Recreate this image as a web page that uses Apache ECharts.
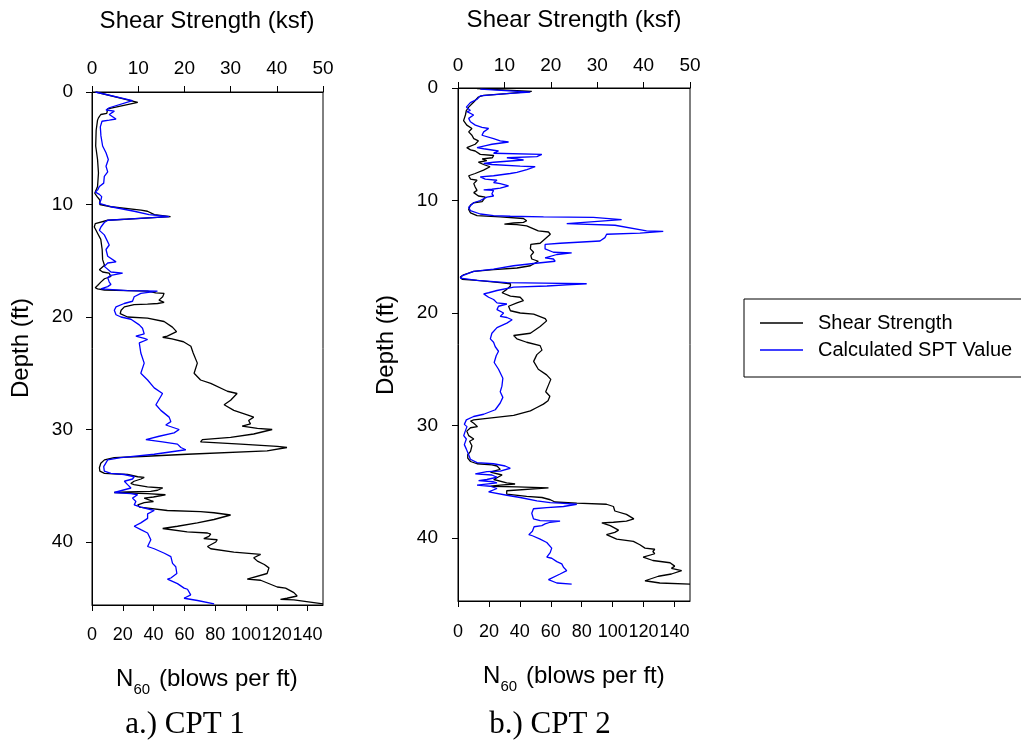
<!DOCTYPE html>
<html>
<head>
<meta charset="utf-8">
<title>CPT shear strength and SPT profiles</title>
<script src="https://cdn.jsdelivr.net/npm/echarts@6/dist/echarts.min.js"></script>
<style>
  html, body { margin: 0; padding: 0; background: #fff; }
  #chart { width: 1021px; height: 746px; }
</style>
</head>
<body>
<div id="chart"></div>
<script>
// Profiles are [depth (ft), value] pairs, ordered by depth.
// CPT 1 shear strength (ksf)
const cpt1Shear = [
  [0.0, 0.8], [0.92, 9.9], [1.5, 3.4], [1.9, 3.2], [2.0, 1.9], [2.3, 1.4], [2.5, 1.2], [3.4, 0.9],
  [4.8, 0.8], [6.0, 1.2], [7.2, 1.4], [8.4, 1.2], [9.0, 0.6], [9.3, 1.1], [9.6, 1.7], [10.0, 1.7],
  [10.2, 4.1], [10.5, 10.6], [10.6, 12.0], [10.9, 13.5], [11.07, 17.0], [11.4, 3.4], [11.7, 0.7],
  [12.0, 0.5], [12.55, 1.2], [13.1, 1.9], [14.0, 2.2], [14.9, 2.3], [15.4, 2.7], [15.8, 1.6],
  [16.0, 2.3], [16.1, 3.7], [16.4, 4.1], [16.6, 2.7], [16.9, 1.9], [17.2, 1.2], [17.4, 0.7],
  [17.5, 1.2], [17.6, 2.7], [17.65, 7.7], [17.7, 12.0], [17.85, 13.8], [17.9, 15.6], [18.2, 15.3],
  [18.5, 14.5], [18.7, 15.6], [18.8, 14.2], [18.85, 12.0], [18.9, 9.1], [19.1, 7.0], [19.4, 6.3],
  [19.7, 6.1], [19.85, 6.4], [20.0, 7.7], [20.1, 12.0], [20.4, 15.6], [20.9, 17.4], [21.3, 18.3],
  [21.7, 16.3], [21.8, 15.3], [21.95, 17.3], [22.2, 19.8], [22.6, 21.4], [23.2, 21.9], [24.1, 22.8],
  [25.0, 22.1], [25.6, 23.5], [25.9, 25.7], [26.6, 29.3], [26.8, 31.4], [27.4, 30.0], [27.8, 28.6],
  [28.3, 30.7], [28.7, 33.6], [28.9, 35.0], [29.2, 33.9], [29.5, 34.3], [29.7, 32.5], [29.9, 35.8],
  [30.0, 39.0], [30.4, 35.0], [30.7, 30.0], [30.9, 23.9], [31.1, 23.5], [31.3, 32.2], [31.5, 40.1],
  [31.6, 42.2], [31.9, 37.9], [32.2, 20.6], [32.4, 10.6], [32.5, 4.8], [32.7, 2.7], [33.0, 1.9],
  [33.4, 1.6], [33.7, 1.7], [33.9, 2.7], [34.0, 7.7], [34.2, 9.9], [34.25, 11.3], [34.4, 10.6],
  [34.6, 9.1], [34.8, 8.4], [34.9, 9.1], [35.1, 12.0], [35.2, 15.3], [35.4, 14.2], [35.5, 12.7],
  [35.55, 7.7], [35.6, 4.8], [35.65, 8.4], [35.7, 12.0], [35.8, 15.9], [36.0, 13.3], [36.1, 11.3],
  [36.4, 13.3], [36.5, 11.3], [36.7, 9.9], [36.9, 10.3], [37.2, 16.3], [37.3, 23.5], [37.4, 26.4],
  [37.6, 30.0], [38.0, 26.4], [38.3, 22.8], [38.6, 18.5], [38.8, 15.3], [38.9, 15.7], [39.1, 20.6],
  [39.2, 25.0], [39.3, 25.7], [39.5, 25.3], [39.7, 24.2], [39.8, 27.1], [40.0, 26.8], [40.4, 25.0],
  [40.6, 25.7], [40.9, 30.7], [41.1, 36.5], [41.4, 35.0], [41.7, 35.8], [42.0, 37.3], [42.3, 38.3],
  [42.8, 37.9], [43.3, 33.6], [43.4, 36.5], [44.0, 40.1], [44.1, 41.9], [44.5, 43.7], [44.8, 44.4],
  [45.0, 42.2], [45.1, 40.8], [45.15, 43.7], [45.5, 50.0]
];

// CPT 1 calculated SPT N60 (blows per ft)
const cpt1Spt = [
  [0.0, 2.2], [0.77, 26.3], [1.4, 11.2], [1.6, 9.1], [1.7, 14.5], [2.0, 11.2], [2.4, 15.6], [2.5, 11.2],
  [2.6, 6.5], [3.1, 5.4], [3.9, 5.8], [4.8, 6.9], [5.4, 9.1], [6.0, 10.6], [6.6, 9.1], [7.1, 10.2],
  [7.5, 8.0], [8.1, 7.6], [8.4, 4.8], [8.7, 3.7], [8.9, 2.2], [9.1, 4.8], [9.3, 6.3], [9.6, 5.8],
  [9.9, 4.8], [10.0, 5.8], [10.2, 12.3], [10.6, 27.4], [10.9, 37.1], [11.07, 50.1], [11.3, 23.1],
  [11.4, 10.2], [11.6, 8.0], [12.0, 5.8], [12.3, 4.8], [12.7, 8.0], [13.6, 11.2], [14.0, 9.1],
  [14.6, 10.2], [15.1, 15.6], [15.2, 10.2], [15.5, 8.0], [16.0, 12.3], [16.1, 19.9], [16.3, 12.3],
  [16.5, 10.2], [16.9, 11.2], [17.1, 12.3], [17.3, 10.2], [17.5, 5.8], [17.65, 23.1], [17.7, 42.5],
  [17.9, 31.7], [18.2, 27.4], [18.6, 26.3], [18.8, 20.9], [19.1, 15.6], [19.4, 14.5], [19.8, 15.6],
  [20.0, 18.8], [20.2, 25.3], [20.7, 30.7], [21.0, 32.8], [21.5, 33.9], [21.7, 28.5], [21.9, 33.9],
  [22.0, 36.1], [22.3, 30.7], [23.2, 31.7], [24.1, 33.9], [25.0, 31.7], [25.6, 36.1], [26.3, 40.4],
  [26.8, 45.8], [27.8, 41.5], [28.3, 44.7], [28.9, 50.1], [29.3, 51.2], [29.6, 47.9], [30.0, 56.6],
  [30.3, 53.3], [30.6, 43.6], [30.9, 35.0], [31.1, 45.8], [31.3, 55.5], [31.6, 57.7], [31.8, 60.9],
  [32.2, 40.4], [32.5, 18.8], [32.7, 10.2], [33.3, 7.6], [33.7, 8.0], [33.9, 12.3], [34.0, 21.0],
  [34.2, 27.4], [34.4, 26.3], [34.6, 21.0], [34.9, 23.1], [35.2, 25.3], [35.6, 14.5], [35.7, 25.3],
  [35.8, 29.6], [36.1, 26.3], [36.4, 28.5], [36.7, 27.4], [36.9, 31.7], [37.2, 40.4], [37.5, 36.1],
  [37.9, 36.1], [38.3, 31.7], [38.6, 27.4], [38.9, 31.7], [39.2, 36.1], [39.8, 38.2], [40.4, 36.1],
  [40.6, 40.4], [41.0, 47.0], [41.3, 51.2], [41.9, 52.3], [42.2, 54.4], [42.8, 55.1], [43.2, 51.2],
  [43.3, 49.0], [43.7, 55.5], [44.1, 59.8], [44.2, 62.0], [44.7, 64.1], [45.0, 59.8], [45.2, 68.5],
  [45.5, 79.3]
];

// CPT 2 shear strength (ksf)
const cpt2Shear = [
  [0.06, 4.1], [0.3, 15.9], [0.5, 10.5], [0.65, 5.5], [0.8, 4.4], [0.95, 4.1], [1.25, 3.4], [1.7, 2.3],
  [2.0, 1.8], [2.4, 1.6], [2.9, 1.2], [3.3, 1.9], [3.6, 3.0], [3.9, 2.3], [4.2, 3.0], [4.5, 3.4],
  [4.7, 4.4], [5.0, 3.7], [5.3, 1.9], [5.5, 2.7], [5.6, 3.7], [5.9, 4.8], [6.0, 7.7], [6.2, 7.4],
  [6.3, 5.2], [6.45, 6.2], [6.6, 4.4], [6.8, 5.5], [7.0, 6.9], [7.3, 5.5], [7.6, 3.7], [7.8, 2.3],
  [8.1, 2.7], [8.2, 4.1], [8.5, 3.4], [8.8, 3.7], [9.1, 4.1], [9.3, 3.4], [9.6, 4.4], [9.7, 5.9],
  [10.1, 5.2], [10.2, 3.4], [10.4, 2.7], [10.8, 2.3], [11.1, 2.7], [11.35, 4.1], [11.45, 9.1],
  [11.6, 14.1], [11.8, 14.8], [11.95, 14.1], [12.0, 12.0], [12.1, 10.0], [12.15, 12.7], [12.25, 14.8],
  [12.7, 17.3], [12.8, 19.5], [13.0, 19.9], [13.4, 18.8], [13.8, 17.7], [13.9, 15.7], [14.3, 15.6],
  [14.6, 16.3], [14.9, 15.7], [15.2, 15.9], [15.4, 17.3], [15.8, 15.6], [16.0, 12.7], [16.15, 7.7],
  [16.3, 3.4], [16.6, 1.2], [16.8, 0.5], [17.0, 0.9], [17.1, 4.1], [17.3, 9.1], [17.4, 11.3],
  [17.6, 11.3], [17.9, 10.5], [18.2, 9.5], [18.5, 11.3], [18.6, 13.4], [18.9, 14.1], [19.1, 12.7],
  [19.4, 10.9], [19.8, 11.3], [20.0, 13.4], [20.1, 16.3], [20.5, 18.8], [20.7, 19.1], [21.2, 17.7],
  [21.8, 15.6], [22.0, 12.0], [22.3, 12.7], [22.6, 14.8], [22.9, 17.7], [23.3, 18.1], [23.7, 17.0],
  [24.3, 16.3], [25.0, 17.3], [25.5, 19.1], [25.9, 20.0], [26.5, 19.4], [27.0, 18.9], [27.4, 19.8],
  [27.8, 19.4], [28.1, 18.4], [28.4, 17.0], [28.7, 15.6], [29.1, 12.0], [29.3, 7.7], [29.5, 3.4],
  [29.6, 2.7], [29.8, 3.4], [30.1, 4.2], [30.2, 2.7], [30.5, 1.9], [30.9, 2.3], [31.2, 3.4],
  [31.4, 2.5], [31.8, 3.0], [32.3, 2.7], [32.6, 2.1], [32.9, 2.1], [33.2, 2.7], [33.4, 4.1],
  [33.5, 7.3], [33.6, 8.4], [33.9, 9.1], [34.05, 7.7], [34.15, 7.0], [34.4, 9.5], [34.8, 7.7],
  [35.1, 10.5], [35.2, 12.3], [35.3, 9.1], [35.4, 7.0], [35.45, 12.7], [35.55, 19.5], [35.8, 10.5],
  [36.1, 10.5], [36.3, 14.8], [36.4, 18.1], [36.6, 19.9], [36.8, 20.9], [36.9, 25.6], [37.0, 32.0],
  [37.2, 33.5], [37.6, 33.8], [37.9, 36.3], [38.3, 37.9], [38.5, 36.3], [38.6, 33.5], [38.65, 31.0],
  [38.9, 32.8], [39.3, 34.6], [39.5, 33.8], [39.7, 32.0], [39.8, 32.0], [40.1, 34.2], [40.3, 37.8],
  [40.6, 39.2], [40.9, 40.3], [41.0, 42.4], [41.2, 42.0], [41.4, 42.4], [41.7, 39.9], [42.0, 42.0],
  [42.2, 45.7], [42.5, 46.7], [42.7, 46.0], [42.9, 48.2], [43.2, 46.0], [43.4, 43.2], [43.8, 40.3],
  [44.0, 43.5], [44.1, 50.0]
];

// CPT 2 calculated SPT N60 (blows per ft)
const cpt2Spt = [
  [0.1, 14.4], [0.36, 46.7], [0.5, 31.6], [0.7, 14.4], [1.0, 12.3], [1.3, 8.0], [1.7, 5.4], [2.0, 8.0],
  [2.1, 5.8], [2.4, 10.1], [2.7, 6.9], [3.0, 8.0], [3.3, 11.2], [3.5, 15.5], [3.6, 19.8], [3.9, 16.6],
  [4.2, 15.5], [4.5, 23.0], [4.7, 27.3], [4.8, 32.7], [5.0, 21.9], [5.1, 18.7], [5.3, 12.3],
  [5.4, 16.6], [5.6, 26.2], [5.8, 23.0], [5.9, 54.2], [6.1, 51.0], [6.2, 31.6], [6.3, 38.1],
  [6.4, 42.4], [6.6, 23.0], [6.7, 16.6], [6.8, 21.9], [6.95, 40.2], [7.0, 49.9], [7.25, 44.5],
  [7.5, 38.1], [7.6, 33.8], [7.8, 23.0], [7.9, 14.4], [8.1, 17.6], [8.2, 25.2], [8.4, 23.0],
  [8.5, 27.3], [8.7, 32.7], [8.9, 27.3], [9.0, 21.9], [9.05, 16.6], [9.1, 23.0], [9.4, 21.9],
  [9.6, 23.0], [9.7, 18.7], [10.0, 14.4], [10.2, 10.1], [10.6, 6.9], [10.9, 8.0], [11.2, 14.4],
  [11.35, 23.0], [11.4, 33.8], [11.45, 55.3], [11.5, 87.5], [11.7, 105.8], [12.05, 70.3],
  [12.2, 101.5], [12.7, 121.9], [12.75, 132.7], [12.9, 117.6], [13.0, 96.1], [13.3, 95.0],
  [13.6, 91.8], [13.8, 66.0], [13.9, 56.3], [14.3, 56.3], [14.6, 61.7], [14.65, 73.5], [14.8, 63.9],
  [15.1, 56.3], [15.2, 61.7], [15.4, 62.8], [15.6, 48.8], [15.8, 35.9], [16.1, 23.0], [16.3, 10.1],
  [16.7, 2.6], [16.9, 1.5], [17.1, 12.3], [17.3, 31.6], [17.35, 55.3], [17.4, 83.2], [17.5, 70.3],
  [17.6, 57.5], [17.7, 36.0], [18.0, 25.2], [18.2, 19.8], [18.3, 16.6], [18.6, 19.8], [18.8, 23.0],
  [19.1, 25.2], [19.2, 31.6], [19.4, 26.2], [19.7, 25.2], [20.0, 29.5], [20.3, 27.3], [20.4, 31.6],
  [20.6, 35.0], [20.9, 31.6], [21.3, 25.2], [21.8, 21.9], [22.3, 20.9], [22.6, 23.0], [23.0, 24.1],
  [23.4, 26.2], [23.8, 24.7], [24.4, 23.4], [25.0, 26.2], [25.8, 29.0], [26.5, 28.4], [27.0, 27.3],
  [27.5, 29.0], [28.0, 27.3], [28.6, 24.1], [29.0, 16.6], [29.2, 10.1], [29.5, 5.4], [29.9, 4.1],
  [30.1, 5.8], [30.5, 4.7], [30.9, 3.7], [31.2, 5.4], [31.7, 4.1], [32.1, 5.4], [32.6, 6.9],
  [33.0, 8.0], [33.3, 12.3], [33.4, 23.0], [33.6, 30.5], [33.8, 33.8], [34.05, 27.3], [34.1, 18.7],
  [34.3, 11.2], [34.4, 21.9], [34.6, 25.2], [34.8, 18.7], [34.9, 13.3], [35.0, 23.0], [35.1, 25.2],
  [35.3, 12.3], [35.4, 20.9], [35.6, 25.2], [35.9, 19.8], [36.0, 20.9], [36.2, 31.6], [36.4, 40.2],
  [36.7, 51.0], [36.85, 59.6], [36.9, 66.0], [37.0, 76.8], [37.2, 68.2], [37.3, 57.4], [37.4, 48.8],
  [37.8, 47.7], [38.3, 48.8], [38.45, 53.1], [38.5, 66.0], [38.6, 59.6], [38.75, 56.3], [38.9, 54.2],
  [39.0, 49.2], [39.4, 48.1], [39.7, 45.8], [39.8, 48.1], [40.1, 53.1], [40.4, 57.4], [40.9, 60.6],
  [41.3, 59.6], [41.7, 57.4], [41.8, 60.6], [42.1, 63.9], [42.3, 67.1], [42.6, 68.2], [42.9, 70.3],
  [43.2, 66.0], [43.7, 58.5], [44.0, 63.9], [44.1, 73.5]
];

// Axis tick values
const depthTicks = [0, 10, 20, 30, 40];
const shearTicks = [0, 10, 20, 30, 40, 50];
const nTicks = [0, 20, 40, 60, 80, 100, 120, 140];
const depthMax = 45.6;
const shearMax = 50;
const nMax = 150;

const SANS = '"Liberation Sans", Arial, Helvetica, sans-serif';
const SERIF = '"Liberation Serif", "Times New Roman", Times, serif';
const AXIS_COLOR = '#000';

// Profiles are stored depth-first; the chart wants [value, depth].
const toXY = profile => profile.map(([depth, value]) => [value, depth]);

function shearAxis(gridIndex, labelMargin) {
  return {
    gridIndex, type: 'value', position: 'top',
    min: 0, max: shearMax, interval: 10,
    axisLine: { show: true, lineStyle: { color: AXIS_COLOR, width: 1 } },
    axisTick: { show: true, length: 6, lineStyle: { color: AXIS_COLOR }, customValues: shearTicks },
    axisLabel: { color: '#000', fontSize: 19, fontFamily: SANS, margin: labelMargin, customValues: shearTicks },
    splitLine: { show: false }
  };
}

function nAxis(gridIndex, labelMargin) {
  return {
    gridIndex, type: 'value', position: 'bottom',
    min: 0, max: nMax, interval: 20,
    axisLine: { show: true, lineStyle: { color: AXIS_COLOR, width: 1 } },
    axisTick: { show: true, length: 6, lineStyle: { color: AXIS_COLOR }, customValues: nTicks },
    axisLabel: { color: '#000', fontSize: 18, fontFamily: SANS, margin: labelMargin, customValues: nTicks },
    splitLine: { show: false }
  };
}

function depthAxis(gridIndex, labelMargin) {
  return {
    gridIndex, type: 'value', inverse: true,
    min: 0, max: depthMax, interval: 10,
    axisLine: { show: true, lineStyle: { color: AXIS_COLOR, width: 1 } },
    axisTick: { show: true, length: 6, lineStyle: { color: AXIS_COLOR }, customValues: depthTicks },
    axisLabel: { color: '#000', fontSize: 19, fontFamily: SANS, margin: labelMargin, customValues: depthTicks },
    splitLine: { show: false }
  };
}

function profileLine(name, data, xAxisIndex, yAxisIndex, color) {
  return {
    name, type: 'line', data: toXY(data),
    xAxisIndex, yAxisIndex,
    showSymbol: false, symbol: 'none',
    lineStyle: { color, width: 1.3 },
    itemStyle: { color },
    emphasis: { disabled: true },
    silent: true
  };
}

function label(text, x, y, size, family, rotation) {
  return {
    type: 'text', x, y, rotation: rotation || 0, silent: true,
    style: {
      text, fill: '#000', fontSize: size, fontFamily: family,
      font: size + 'px ' + family,
      align: 'center', verticalAlign: 'middle',
      textAlign: 'center', textVerticalAlign: 'middle'
    }
  };
}

function nTitle(cx, cy) {
  // "N" with subscript "60", then the unit text
  const left = cx - 91;
  return [
    { type: 'text', x: left, y: cy, silent: true,
      style: { text: 'N', fill: '#000', font: '24px ' + SANS, fontSize: 24, fontFamily: SANS,
               align: 'left', verticalAlign: 'middle', textAlign: 'left', textVerticalAlign: 'middle' } },
    { type: 'text', x: left + 17.5, y: cy + 11, silent: true,
      style: { text: '60', fill: '#000', font: '15px ' + SANS, fontSize: 15, fontFamily: SANS,
               align: 'left', verticalAlign: 'middle', textAlign: 'left', textVerticalAlign: 'middle' } },
    { type: 'text', x: left + 43, y: cy, silent: true,
      style: { text: '(blows per ft)', fill: '#000', font: '24px ' + SANS, fontSize: 24, fontFamily: SANS,
               align: 'left', verticalAlign: 'middle', textAlign: 'left', textVerticalAlign: 'middle' } }
  ];
}

const chart = echarts.init(document.getElementById('chart'), null, { renderer: 'canvas' });

chart.setOption({
  backgroundColor: '#fff',
  animation: false,
  grid: [
    { left: 92, top: 92, width: 231, height: 513, show: true, borderColor: '#000', borderWidth: 1,
      backgroundColor: 'transparent', containLabel: false, outerBoundsMode: 'none' },
    { left: 458, top: 88, width: 232, height: 513, show: true, borderColor: '#000', borderWidth: 1,
      backgroundColor: 'transparent', containLabel: false, outerBoundsMode: 'none' }
  ],
  xAxis: [
    shearAxis(0, 14),
    nAxis(0, 21),
    shearAxis(1, 13),
    nAxis(1, 22)
  ],
  yAxis: [
    depthAxis(0, 19),
    depthAxis(1, 20)
  ],
  legend: {
    orient: 'vertical',
    left: 744, top: 299,
    padding: [14, 16, 17, 16],
    itemGap: 7,
    itemWidth: 43, itemHeight: 1.5,
    icon: 'rect',
    borderColor: '#000', borderWidth: 1,
    backgroundColor: '#fff',
    selectedMode: false,
    textStyle: { color: '#000', fontSize: 20, fontFamily: SANS, padding: [0, 0, 0, 10] },
    data: ['Shear Strength', 'Calculated SPT Value']
  },
  series: [
    profileLine('Shear Strength', cpt1Shear, 0, 0, '#000000'),
    profileLine('Calculated SPT Value', cpt1Spt, 1, 0, '#0000ff'),
    profileLine('Shear Strength', cpt2Shear, 2, 1, '#000000'),
    profileLine('Calculated SPT Value', cpt2Spt, 3, 1, '#0000ff')
  ],
  graphic: [
    label('Shear Strength (ksf)', 207, 21, 24, SANS),
    label('Shear Strength (ksf)', 574, 20, 24, SANS),
    label('Depth (ft)', 21, 348, 24, SANS, Math.PI / 2),
    label('Depth (ft)', 386, 345, 24, SANS, Math.PI / 2),
    ...nTitle(207, 679),
    ...nTitle(574, 676),
    label('a.) CPT 1', 185, 725, 31, SERIF),
    label('b.) CPT 2', 550, 725, 31, SERIF)
  ]
});
</script>
</body>
</html>
